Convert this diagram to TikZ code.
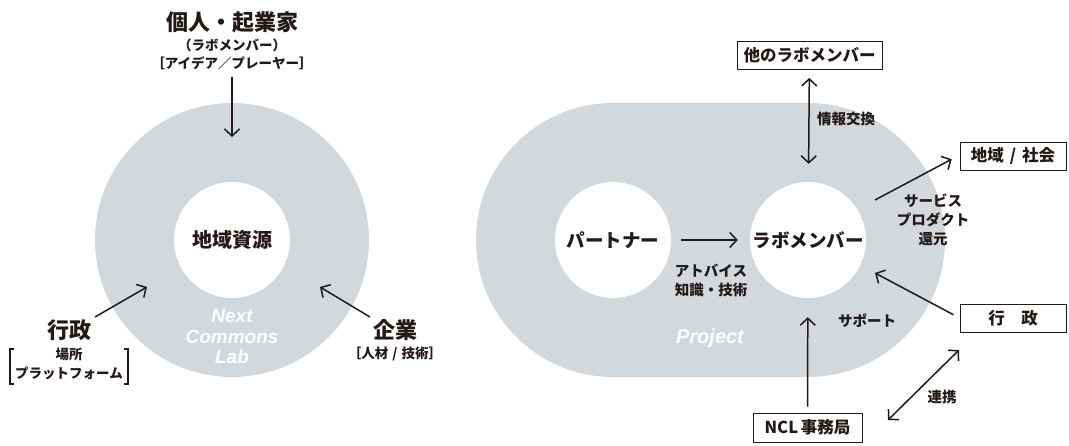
\documentclass[tikz,border=0pt]{standalone}
\usepackage{fontspec}
\usetikzlibrary{arrows.meta}
\newfontfamily\jp{Noto Sans CJK JP}
\newfontfamily\lat{Liberation Sans}
\definecolor{ink}{HTML}{231815}
\definecolor{ringgray}{HTML}{D3D8DC}
\begin{document}
\begin{tikzpicture}[x=1pt,y=-1pt,
  every node/.style={inner sep=0pt, text=ink, align=center},
  big/.style={font=\jp\bfseries\fontsize{22}{24}\selectfont},
  mid/.style={font=\jp\bfseries\fontsize{19}{22}\selectfont},
  sml/.style={font=\jp\bfseries\fontsize{13.5}{18}\selectfont},
  lbl/.style={font=\jp\bfseries\fontsize{14.5}{19}\selectfont},
  boxt/.style={font=\jp\bfseries\fontsize{16.5}{18}\selectfont, draw=ink, line width=0.8pt, minimum height=28pt},
  hole/.style={circle, fill=white, minimum size=116pt},
  wlat/.style={font=\lat\bfseries\itshape\fontsize{19}{20.5}\selectfont, text=white},
  arr/.style={draw=ink, line width=1.5pt, -{Straight Barb[length=7pt,width=15pt]}},
  darr/.style={draw=ink, line width=1.5pt, {Straight Barb[length=7pt,width=15pt]}-{Straight Barb[length=7pt,width=15pt]}},
  brk/.style={draw=ink, line width=1.2pt}
]
\useasboundingbox (0,0) rectangle (1069,445);

% ---------- left: ring ----------
\fill[ringgray] (232,240) circle[radius=137];
\node[hole, mid, font=\jp\bfseries\fontsize{20}{22}\selectfont] (shigen) at (232,240) {地域資源};
\node[wlat] (ncl) at (232,337) {Next\\Commons\\Lab};

\node[big] (kojin) at (232,22) {個人・起業家};
\node[sml] (kojin2) at (232,45) {（ラボメンバー）};
\node[sml] (kojin3) at (232,63) {［アイデア／プレーヤー］};
\coordinate (kojinEnd) at (232,137);
\draw[arr] (kojin3.south) ++(0,7) coordinate (kojinStart) -- (kojinEnd);

\node[big] (gyosei) at (69,330) {行政};
\node[sml] (basho) at (69,354) {場所};
\node[sml] (pf) at (69,373) {プラットフォーム};
\draw[brk] (14,349) -- (10,349) -- (10,384) -- (14,384);
\draw[brk] (124,349) -- (128,349) -- (128,384) -- (124,384);
\coordinate (gyS) at (95,317);
\coordinate (gyE) at (147,287);
\draw[arr] (gyS) -- (gyE);

\node[big] (kigyo) at (395,330) {企業};
\node[sml] (kigyo2) at (395,354) {［人材\hspace{4pt}/\hspace{4pt}技術］};
\coordinate (kgS) at (370,317);
\coordinate (kgE) at (320,287);
\draw[arr] (kgS) -- (kgE);

% ---------- right: project ----------
\fill[ringgray] (613,240) circle[radius=137];
\fill[ringgray] (808,240) circle[radius=137];
\fill[ringgray] (613,103) rectangle (808,377);
\node[hole, mid, font=\jp\bfseries\fontsize{18.5}{22}\selectfont] (partner) at (613,240) {パートナー};
\node[hole, mid, font=\jp\bfseries\fontsize{18.5}{22}\selectfont] (lab) at (808,240) {ラボメンバー};
\node[wlat, font=\lat\bfseries\itshape\fontsize{20}{22}\selectfont] (project) at (710,338) {Project};

\node[boxt, minimum width=145pt] (other) at (809.5,55.5) {他のラボメンバー};
\node[boxt, minimum width=106pt] (chiiki) at (1013,156) {地域\hspace{6pt}/\hspace{6pt}社会};
\node[boxt, minimum width=106pt] (gyosei2) at (1013,318) {行　政};
\node[boxt, minimum width=109pt, minimum height=29pt] (jimu) at (807.5,427.5) {NCL\,事務局};

\draw[darr, shorten <=8pt, shorten >=18pt] (other) -- (lab);
\node[lbl] (joho) at (846,119) {情報交換};

\draw[arr, shorten <=10pt, shorten >=12pt] (partner) -- (lab);
\node[lbl] (adv1) at (711,271) {アトバイス};
\node[lbl] (adv2) at (711,290) {知識・技術};

\coordinate (svS) at (875,200);
\draw[arr, shorten >=9pt] (svS) -- (chiiki.west |- 0,155);
\node[lbl] (sv1) at (933,201) {サービス};
\node[lbl] (sv2) at (933,220) {プロダクト};
\node[lbl] (sv3) at (933,239) {還元};

\coordinate (gyE2) at (875,273);
\draw[arr, shorten <=7pt] (gyosei2.west) -- (gyE2);
\node[lbl] (support) at (867,321) {サポート};

\draw[arr, shorten <=6pt, shorten >=19pt] (jimu) -- (lab);

\coordinate (rkS) at (888,420);
\coordinate (rkE) at (959,350);
\draw[darr] (rkS) -- (rkE);
\node[lbl] (renkei) at (942,397) {連携};
\end{tikzpicture}
\end{document}
